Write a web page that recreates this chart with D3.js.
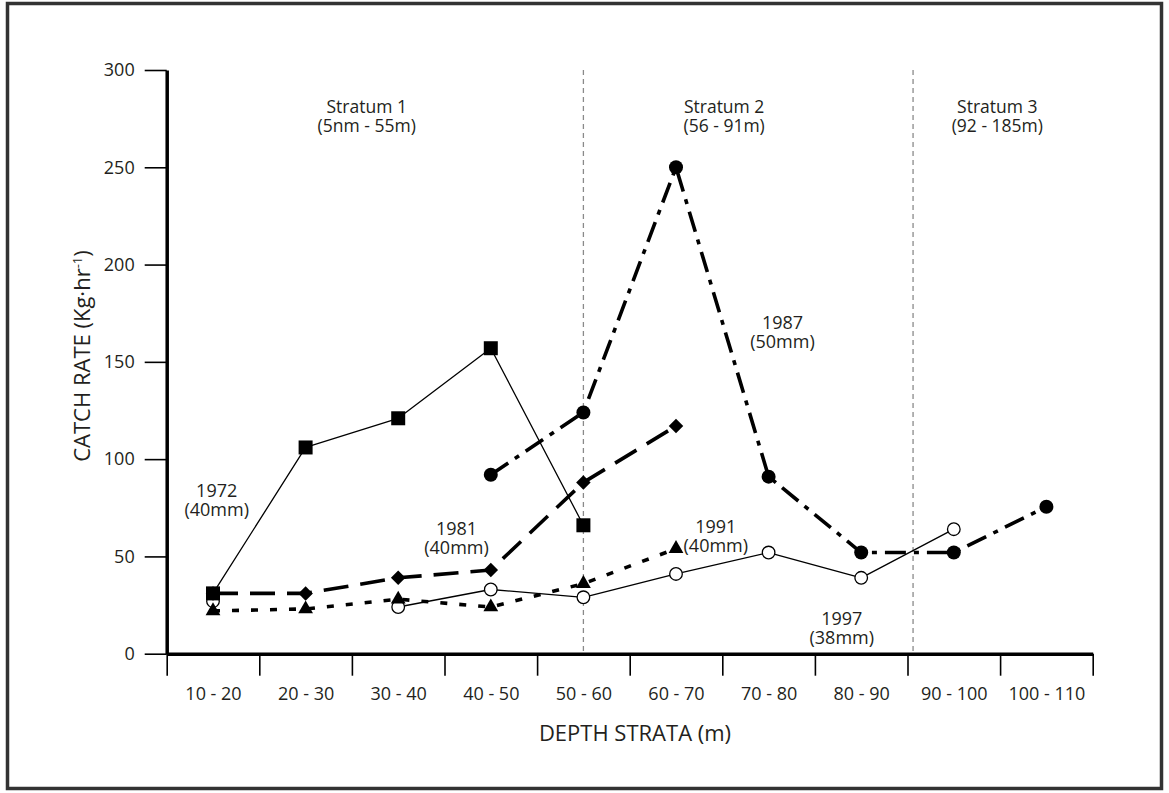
<!DOCTYPE html>
<html>
<head>
<meta charset="utf-8">
<script src="https://cdn.jsdelivr.net/npm/d3@7"></script>
<style>
  html, body { margin: 0; padding: 0; background: #fff; }
  svg { display: block; }
  text { font-family: "Open Sans", "Noto Sans", sans-serif; fill: #231f20; }
</style>
</head>
<body>
<svg id="chart" width="1169" height="793"></svg>
<script>
// Depth strata (m): lower and upper bound of each 10 m band
const strataLo = [10, 20, 30, 40, 50, 60, 70, 80, 90, 100];
const strataHi = [20, 30, 40, 50, 60, 70, 80, 90, 100, 110];
const strataLabels = ["10 - 20", "20 - 30", "30 - 40", "40 - 50", "50 - 60",
                      "60 - 70", "70 - 80", "80 - 90", "90 - 100", "100 - 110"];

// Catch rate (kg per hour) by depth band for each survey year
const catch1972 = [31, 106, 121, 157, 66, null, null, null, null, null];
const catch1981 = [31, 31, 39, 43, 88, 117, null, null, null, null];
const catch1987 = [null, null, null, 92, 124, 250, 91, 52, 52, 75.5];
const catch1991 = [22, 23, 28, 24, 36, 54, null, null, null, null];
const catch1997 = [27, null, 24, 33, 29, 41, 52, 39, 64, null];

const yTicks = [0, 50, 100, 150, 200, 250, 300];

// Boundaries between the survey strata (m) and their captions
const stratumBounds = [55, 90.6];
const stratumNames = ["Stratum 1", "Stratum 2", "Stratum 3"];
const stratumRanges = ["(5nm - 55m)", "(56 - 91m)", "(92 - 185m)"];
const stratumCenters = [31.6, 70.2, 99.7];

// Year / mesh captions: depth (m), catch rate position of first line
const yearNames = ["1972", "1981", "1987", "1991", "1997"];
const yearMesh = ["(40mm)", "(40mm)", "(50mm)", "(40mm)", "(38mm)"];
const yearLabelDepth = [15.4, 41.3, 76.5, 69.3, 82.9];
const yearLabelRate = [80.5, 61.0, 167.0, 62.2, 14.6];

const svg = d3.select("#chart");
const W = 1169, H = 793;

// outer frame
svg.append("rect")
  .attr("x", 7.5).attr("y", 3.5)
  .attr("width", W - 15).attr("height", H - 8)
  .attr("fill", "none").attr("stroke", "#333").attr("stroke-width", 3.5);

const x = d3.scaleLinear().domain([10, 110]).range([166.7, 1092.7]);
const y = d3.scaleLinear().domain([0, 300]).range([653.7, 70]);

const mid = i => (strataLo[i] + strataHi[i]) / 2;

// stratum boundaries
svg.selectAll("line.bound").data(stratumBounds).join("line")
  .attr("class", "bound")
  .attr("x1", d => x(d)).attr("x2", d => x(d))
  .attr("y1", y(300)).attr("y2", y(0))
  .attr("stroke", "#8a8a8a").attr("stroke-width", 1.3)
  .attr("stroke-dasharray", "5,4");

// stratum captions (two lines each)
svg.selectAll("text.stratum").data(stratumNames).join("text")
  .attr("class", "stratum")
  .attr("text-anchor", "middle")
  .attr("font-size", 17.5)
  .attr("x", (d, i) => x(stratumCenters[i]))
  .attr("y", 113)
  .text(d => d);
svg.selectAll("text.stratumRange").data(stratumRanges).join("text")
  .attr("class", "stratumRange")
  .attr("text-anchor", "middle")
  .attr("font-size", 17.5)
  .attr("x", (d, i) => x(stratumCenters[i]))
  .attr("y", 132)
  .text(d => d);

// axes
const yAxis = d3.axisLeft(y).tickValues(yTicks).tickSize(22).tickSizeOuter(0).tickPadding(10);
const gy = svg.append("g").attr("transform", `translate(${x(10)},0)`).call(yAxis);
gy.select(".domain").attr("stroke", "#000").attr("stroke-width", 3.5);
gy.selectAll(".tick line").attr("stroke", "#000").attr("stroke-width", 1.6);
gy.selectAll(".tick text").attr("font-size", 18).attr("fill", "#231f20")
  .attr("font-family", "'Open Sans', sans-serif");

const edges = strataLo.concat([strataHi[strataHi.length - 1]]);
const xAxis = d3.axisBottom(x).tickValues(edges).tickSize(22).tickSizeOuter(0).tickFormat("");
const gx = svg.append("g").attr("transform", `translate(0,${y(0)})`).call(xAxis);
gx.select(".domain").attr("stroke", "#000").attr("stroke-width", 3.5);
gx.selectAll(".tick line").attr("stroke", "#000").attr("stroke-width", 1.6);

const xLab = d3.axisBottom(x).tickValues(strataLo.map((d, i) => mid(i)))
  .tickSize(0).tickPadding(34)
  .tickFormat((d, i) => strataLabels[i]);
const gxl = svg.append("g").attr("transform", `translate(0,${y(0)})`).call(xLab);
gxl.select(".domain").remove();
gxl.selectAll(".tick text").attr("font-size", 18).attr("fill", "#231f20")
  .attr("font-family", "'Open Sans', sans-serif");

// axis titles
svg.append("text")
  .attr("x", 635).attr("y", 741)
  .attr("text-anchor", "middle").attr("font-size", 22)
  .text("DEPTH STRATA (m)");

const yt = svg.append("text")
  .attr("transform", "translate(90,356) rotate(-90)")
  .attr("text-anchor", "middle").attr("font-size", 22);
yt.append("tspan").text("CATCH RATE (Kg\u00B7hr");
yt.append("tspan").attr("font-size", 13).attr("dy", -8).text("-1");
yt.append("tspan").attr("dy", 8).text(")");

// series lines
const series = [
  { values: catch1997, width: 1.3, dash: null },
  { values: catch1991, width: 3.6, dash: "7,12" },
  { values: catch1981, width: 3.6, dash: "25,12" },
  { values: catch1987, width: 3.6, dash: "21,8,5,8" },
  { values: catch1972, width: 1.3, dash: null }
];

const line = d3.line()
  .defined(d => d.v != null)
  .x(d => x(d.m)).y(d => y(d.v));

const pts = vals => vals.map((v, i) => ({ m: mid(i), v }));

series.forEach(s => {
  svg.append("path")
    .datum(pts(s.values))
    .attr("d", line)
    .attr("fill", "none")
    .attr("stroke", "#000")
    .attr("stroke-width", s.width)
    .attr("stroke-dasharray", s.dash)
    .attr("stroke-linejoin", "round");
});

// markers
function marker(vals, type, size, rot, fill, stroke) {
  svg.append("g").selectAll("path")
    .data(pts(vals).filter(d => d.v != null))
    .join("path")
    .attr("d", d3.symbol().type(type).size(size))
    .attr("transform", d => `translate(${x(d.m)},${y(d.v)}) rotate(${rot})`)
    .attr("fill", fill)
    .attr("stroke", stroke)
    .attr("stroke-width", stroke === "none" ? 0 : 1.3);
}
marker(catch1997, d3.symbolCircle, Math.PI * 6.3 * 6.3, 0, "#fff", "#000");
marker(catch1991, d3.symbolTriangle, 95, 0, "#000", "none");
marker(catch1981, d3.symbolSquare, 105, 45, "#000", "none");
marker(catch1987, d3.symbolCircle, Math.PI * 7 * 7, 0, "#000", "none");
marker(catch1972, d3.symbolSquare, 196, 0, "#000", "none");

// year / mesh captions (two lines each)
svg.selectAll("text.year").data(yearNames).join("text")
  .attr("class", "year")
  .attr("text-anchor", "middle")
  .attr("font-size", 18)
  .attr("x", (d, i) => x(yearLabelDepth[i]))
  .attr("y", (d, i) => y(yearLabelRate[i]))
  .text(d => d);
svg.selectAll("text.mesh").data(yearMesh).join("text")
  .attr("class", "mesh")
  .attr("text-anchor", "middle")
  .attr("font-size", 18)
  .attr("x", (d, i) => x(yearLabelDepth[i]))
  .attr("y", (d, i) => y(yearLabelRate[i]) + 19)
  .text(d => d);
</script>
</body>
</html>
